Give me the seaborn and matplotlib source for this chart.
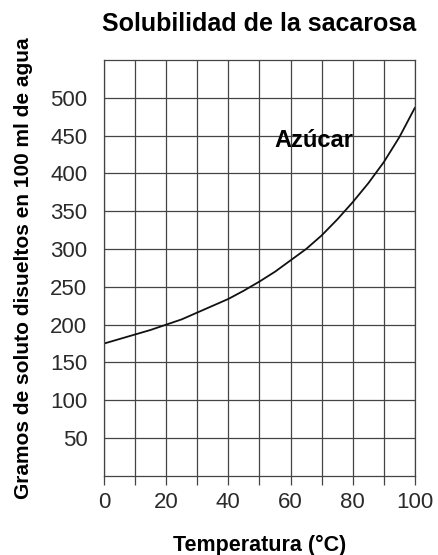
import numpy as np
import pandas as pd
import matplotlib
matplotlib.use("Agg")
import matplotlib.pyplot as plt
import seaborn as sns

# ----------------------- Data -----------------------
temperatura = [0, 5, 10, 15, 20, 25, 30, 35, 40, 45, 50,
               55, 60, 65, 70, 75, 80, 85, 90, 95, 100]
solubilidad = [175, 181, 187, 193, 200, 207, 216, 225, 234, 245, 257,
               270, 285, 300, 318, 339, 362, 387, 415, 448, 487]
x_ticks = [0, 20, 40, 60, 80, 100]
y_ticks = [50, 100, 150, 200, 250, 300, 350, 400, 450, 500]

df = pd.DataFrame({"Temperatura": temperatura, "Solubilidad": solubilidad})

# ----------------------- Plot -----------------------
sns.set_style("white")
plt.rcParams["font.family"] = ["Liberation Sans", "DejaVu Sans"]
plt.rcParams["text.color"] = "black"
plt.rcParams["axes.labelcolor"] = "black"

fig = plt.figure(figsize=(4.38, 5.55), dpi=100)
ax = fig.add_axes([0.2374, 0.1425, 0.71, 0.7495])

sns.lineplot(data=df, x="Temperatura", y="Solubilidad", ax=ax,
             color="#111111", linewidth=1.3)

ax.set_xlim(0, 100)
ax.set_ylim(0, 550)

# grid every 10 degrees and every 50 g
ax.set_xticks(np.arange(0, 101, 10))
ax.set_xticklabels([str(t) if t in x_ticks else "" for t in range(0, 101, 10)])
ax.set_yticks(y_ticks)
ax.set_yticklabels([str(v) for v in y_ticks])
ax.grid(True, color="#444444", linewidth=0.9)
ax.set_axisbelow(True)

for s in ax.spines.values():
    s.set_color("#444444")
    s.set_linewidth(0.9)

ax.tick_params(axis="x", bottom=True, length=6.5, width=0.9, color="#444444",
               pad=5, labelsize=16, labelcolor="#2a2a2a")
ax.tick_params(axis="y", left=False, length=0, pad=12, labelsize=16,
               labelcolor="#2a2a2a")

ax.set_xlabel("Temperatura (°C)", fontsize=15.5, fontweight="bold", color="black")
ax.xaxis.set_label_coords(0.5, -0.142)
ax.set_ylabel("Gramos de soluto disueltos en 100 ml de agua", fontsize=15,
              fontweight="bold", color="black")
ax.yaxis.set_label_coords(-0.228, 0.5)
ax.set_title("Solubilidad de la sacarosa", fontsize=18, fontweight="bold",
             pad=21, color="black")

ax.text(67.5, 443, "Azúcar", fontsize=17, fontweight="bold", ha="center",
        va="center", color="black")

fig.savefig("out.png", dpi=100)
